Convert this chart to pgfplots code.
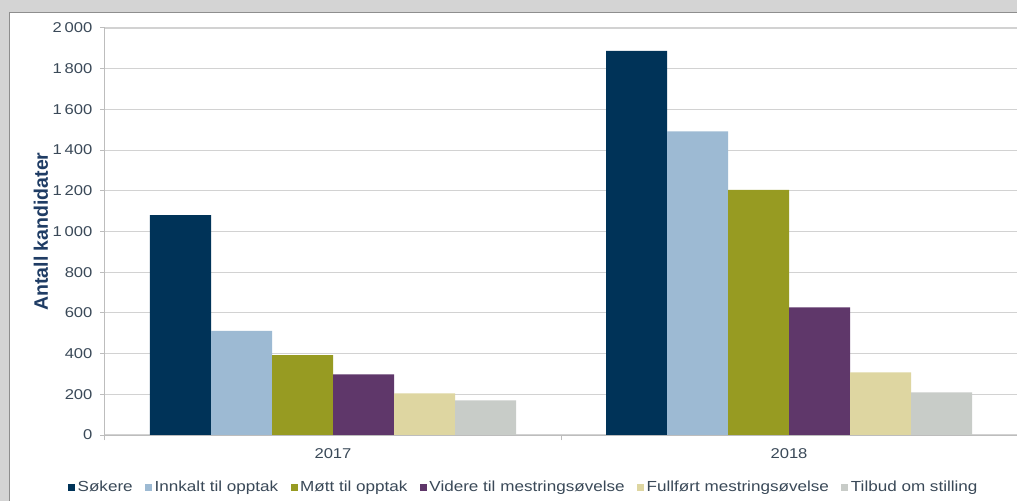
\documentclass[border=0pt]{standalone}
\usepackage{fontspec}
\setmainfont{Liberation Sans}[FakeStretch=1.17]
\newfontfamily\labfont{Liberation Sans}
\usepackage{pgfplots}
\pgfplotsset{compat=1.18}

\definecolor{bggray}{HTML}{D4D4D4}
\definecolor{panelline}{HTML}{8E8E8E}
\definecolor{gridgray}{HTML}{D2D2D2}
\definecolor{axgray}{HTML}{BDBDBD}
\definecolor{tickcol}{HTML}{3A4958}
\definecolor{ylabcol}{HTML}{1F3C64}
\definecolor{csok}{HTML}{003358}
\definecolor{cinn}{HTML}{9DBAD3}
\definecolor{cmot}{HTML}{979B22}
\definecolor{cvid}{HTML}{5F376A}
\definecolor{cful}{HTML}{DED6A1}
\definecolor{ctil}{HTML}{C8CCC8}

\begin{document}
\begin{tikzpicture}
\useasboundingbox (0,0) rectangle (1017bp,501bp);
\fill[bggray] (0,0) rectangle (1017bp,501bp);
\filldraw[fill=white, draw=panelline, line width=1bp] (9bp,-3bp) rectangle (1022bp,488.5bp);
\begin{axis}[
    at={(105bp,66bp)}, anchor=south west,
    scale only axis, width=912bp, height=407bp,
    ybar=0pt, bar width=61bp,
    xmin=-0.5, xmax=1.5, ymin=0, ymax=2000,
    axis lines*=left,
    axis line style={axgray, line width=1bp},
    xtick={-0.5,0.5,1.5}, xticklabels={},
    extra x ticks={0,1}, extra x tick labels={2017,2018},
    extra x tick style={major tick length=0pt},
    ytick={0,200,...,2000},
    ymajorgrids,
    grid style={gridgray, line width=1.1bp},
    tick align=outside, major tick length=5bp,
    tick style={axgray, line width=1bp},
    tick label style={font=\fontsize{14.2bp}{16bp}\selectfont, text=tickcol},
    yticklabel style={xshift=-4bp},
    xticklabel style={yshift=-10bp},
    /pgf/number format/.cd, 1000 sep={\kern0.2em}, assume math mode=true, /pgfplots/.cd,
    ylabel={\labfont\bfseries Antall kandidater},
    ylabel style={at={(axis description cs:-0.0702,0.5)}, anchor=center,
        font=\fontsize{19.5bp}{22bp}\selectfont, text=ylabcol},
    legend columns=6,
    legend style={at={(axis description cs:0.4595,-0.1278)}, anchor=center,
        draw=none, fill=none, font=\fontsize{14.6bp}{17bp}\selectfont, text=tickcol,
        /tikz/every even column/.append style={column sep=10bp},
        nodes={inner sep=2.5bp}},
    legend image code/.code={\fill[#1] (0bp,-3.5bp) rectangle (7bp,3.5bp);},
]
\addplot[fill=csok, draw=none] coordinates {(0,1080) (1,1887)};
\addplot[fill=cinn, draw=none] coordinates {(0,512) (1,1492)};
\addplot[fill=cmot, draw=none] coordinates {(0,392) (1,1204)};
\addplot[fill=cvid, draw=none] coordinates {(0,298) (1,627)};
\addplot[fill=cful, draw=none] coordinates {(0,205) (1,308)};
\addplot[fill=ctil, draw=none] coordinates {(0,170) (1,210)};
\legend{Søkere, Innkalt til opptak, Møtt til opptak, Videre til mestringsøvelse, Fullført mestringsøvelse, Tilbud om stilling}
\end{axis}
\end{tikzpicture}
\end{document}
